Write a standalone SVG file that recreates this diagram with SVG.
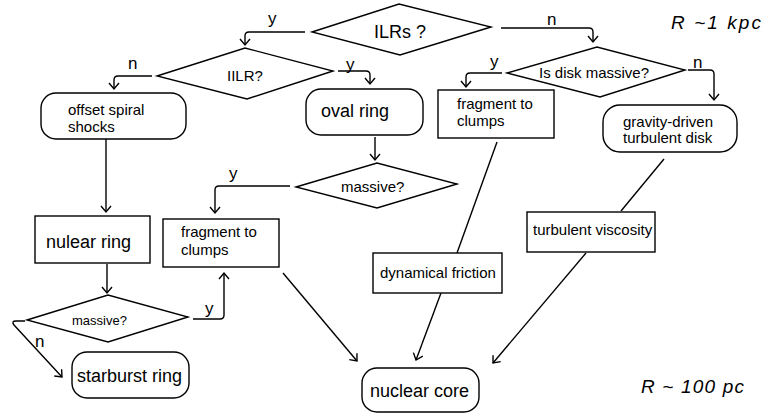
<svg xmlns="http://www.w3.org/2000/svg" width="768" height="414" viewBox="0 0 768 414">
<style>
.sh{fill:#fff;stroke:#000;stroke-width:1.4}
.t{font-family:"Liberation Sans",Arial,sans-serif;fill:#000}
.s15{font-size:15px}
.s18{font-size:18px}
.lb{font-family:"Liberation Sans",Arial,sans-serif;font-size:17px;fill:#000}
.c{fill:none;stroke:#000;stroke-width:1.4}
.it{font-family:"Liberation Sans",Arial,sans-serif;font-style:italic;font-size:19px;fill:#000}
</style>
<defs>
<marker id="ah" markerUnits="userSpaceOnUse" markerWidth="16" markerHeight="16" viewBox="-8 -8 16 16" refX="0" refY="0" orient="auto" overflow="visible">
<path d="M-6,-5 L0,0 L-6,5" fill="none" stroke="#000" stroke-width="1.4"/>
</marker>
</defs>
<rect width="768" height="414" fill="#fff"/>
<g id="connectors">
<path class="c" d="M305,32 H249 Q245,32 245,36 V45" marker-end="url(#ah)"/>
<path class="c" d="M501,28 H589 Q593,28 593,32 V42" marker-end="url(#ah)"/>
<path class="c" d="M152,76 H118 Q114,76 114,80 V89" marker-end="url(#ah)"/>
<path class="c" d="M338,71 H366 Q370,71 370,75 V84" marker-end="url(#ah)"/>
<path class="c" d="M375,137 V160" marker-end="url(#ah)"/>
<path class="c" d="M290,186 H219 Q215,186 215,190 V213" marker-end="url(#ah)"/>
<path class="c" d="M106,139 V212" marker-end="url(#ah)"/>
<path class="c" d="M107,264 V293" marker-end="url(#ah)"/>
<path class="c" d="M193,319 H220 Q224,319 224,315 V273" marker-end="url(#ah)"/>
<path class="c" d="M25,321 H16 Q11,321 14,325 L62,377" marker-end="url(#ah)"/>
<path class="c" d="M502,73 H470 Q466,73 466,77 V87" marker-end="url(#ah)"/>
<path class="c" d="M688,70 H710 Q714,70 714,74 V100" marker-end="url(#ah)"/>
<path class="c" d="M283,273 L357,361" marker-end="url(#ah)"/>
<path class="c" d="M497,142 L457,253"/>
<path class="c" d="M441,293 L416,360" marker-end="url(#ah)"/>
<path class="c" d="M664,159 L621,211"/>
<path class="c" d="M586,253 L493,363" marker-end="url(#ah)"/>
<text class="lb" x="268" y="24">y</text>
<text class="lb" x="547" y="25">n</text>
<text class="lb" x="128" y="69">n</text>
<text class="lb" x="346" y="70">y</text>
<text class="lb" x="229" y="179">y</text>
<text class="lb" x="490" y="67">y</text>
<text class="lb" x="693" y="68">n</text>
<text class="lb" x="205" y="314">y</text>
<text class="lb" x="35" y="347">n</text>
</g>
<g id="ilrs">
<polygon class="sh" points="312,32 399,4 491,27 400,55"/>
<text class="t s18" x="374" y="38">ILRs ?</text>
</g>
<g id="iilr">
<polygon class="sh" points="157,76 245,48 333,71 247,99"/>
<text class="t s15" x="227" y="81">IILR?</text>
</g>
<g id="offset-spiral">
<rect class="sh" x="41" y="93" width="145" height="46" rx="15"/>
<text class="t s15" x="68" y="115">offset spiral</text>
<text class="t s15" x="68" y="132">shocks</text>
</g>
<g id="oval-ring">
<rect class="sh" x="306" y="89" width="117" height="46" rx="15"/>
<text class="t s18" x="321" y="117">oval ring</text>
</g>
<g id="massive-mid">
<polygon class="sh" points="296,187 377,163 457,184 377,208"/>
<text class="t s15" x="341" y="192">massive?</text>
</g>
<g id="fragment-mid">
<rect class="sh" x="163" y="219" width="116" height="48"/>
<text class="t s15" x="181" y="237">fragment to</text>
<text class="t s15" x="181" y="255">clumps</text>
</g>
<g id="nulear-ring">
<rect class="sh" x="35" y="216" width="115" height="47"/>
<text class="t s18" x="46" y="248">nulear ring</text>
</g>
<g id="massive-bottom">
<polygon class="sh" points="27,320 108,295 188,317 108,342"/>
<text class="t" style="font-size:13px" x="72" y="325">massive?</text>
</g>
<g id="starburst-ring">
<rect class="sh" x="72" y="352" width="117" height="46" rx="15"/>
<text class="t s18" x="77" y="382">starburst ring</text>
</g>
<g id="disk-massive">
<polygon class="sh" points="507,73 597,47 685,70 600,97"/>
<text class="t s15" x="539" y="78">Is disk massive?</text>
</g>
<g id="fragment-right">
<rect class="sh" x="438" y="90" width="116" height="48"/>
<text class="t s15" x="457" y="109">fragment to</text>
<text class="t s15" x="457" y="126">clumps</text>
</g>
<g id="gravity-disk">
<rect class="sh" x="603" y="105" width="134" height="47" rx="17"/>
<text class="t s15" x="623" y="127">gravity-driven</text>
<text class="t s15" x="623" y="143">turbulent disk</text>
</g>
<g id="dynamical-friction">
<rect class="sh" x="373" y="253" width="129" height="40"/>
<text class="t s15" x="380" y="278">dynamical friction</text>
</g>
<g id="turbulent-viscosity">
<rect class="sh" x="527" y="212" width="128" height="40"/>
<text class="t s15" x="533" y="235">turbulent viscosity</text>
</g>
<g id="nuclear-core">
<rect class="sh" x="362" y="368" width="117" height="44" rx="15"/>
<text class="t s18" x="370" y="397">nuclear core</text>
</g>
<g id="scale-labels">
<text class="it" x="671" y="29" textLength="90" lengthAdjust="spacing">R ~1 kpc</text>
<text class="it" x="641" y="393" textLength="103" lengthAdjust="spacing">R ~ 100 pc</text>
</g>
</svg>
